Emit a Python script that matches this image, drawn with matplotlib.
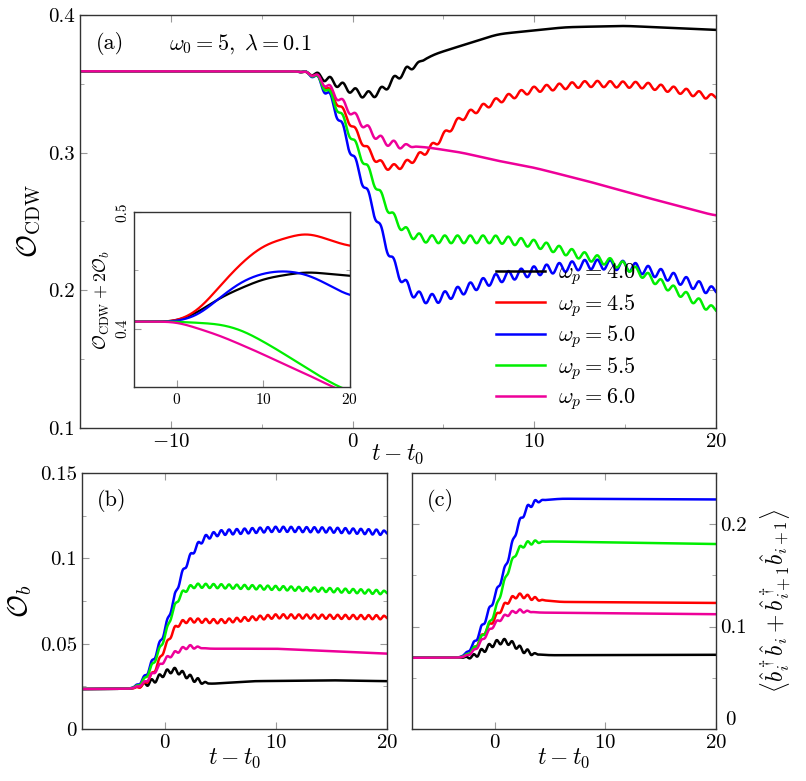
import numpy as np
import matplotlib
matplotlib.use("Agg")
import matplotlib.pyplot as plt
from matplotlib.ticker import MultipleLocator

plt.rcParams['mathtext.fontset'] = 'cm'
plt.rcParams['font.family'] = ['cmr10', 'DejaVu Serif']
plt.rcParams['axes.unicode_minus'] = False
plt.rcParams['axes.formatter.use_mathtext'] = True

labels = ["4.0", "4.5", "5.0", "5.5", "6.0"]
colors = ["black", "#ff0000", "#0000ff", "#00ee00", "#ee0099"]

# panel (a): O_CDW keypoints (t, value), ripple amplitudes
a_t = [
    [-15, -3, -2, -1, 0, 0.7, 1.5, 2.5, 4.4, 8, 11.7, 15, 20],
    [-15, -3, -2, -1, 0, 0.7, 1.5, 2.2, 3, 4.4, 6, 8, 10, 13, 16, 18, 20],
    [-15, -3, -2, -1, -0.5, 0, 0.7, 1.5, 2, 2.7, 3.5, 4.5, 6, 8, 10, 13, 15, 17, 20],
    [-15, -3, -2, -1, 0, 0.7, 1.5, 2.2, 3, 4, 8, 10, 13, 15, 17, 20],
    [-15, -3, -2, -1, 0, 0.7, 1.5, 2.5, 4, 6, 8, 10, 13, 16, 20],
]
a_v = [
    [.359, .359, .357, .351, .345, .341, .343, .356, .371, .386, .391, .392, .389],
    [.359, .359, .357, .340, .319, .304, .291, .288, .292, .304, .326, .338, .346, .350, .349, .345, .340],
    [.359, .359, .357, .335, .316, .297, .275, .246, .226, .207, .195, .193, .200, .209, .214, .219, .218, .212, .199],
    [.359, .359, .357, .338, .309, .292, .270, .253, .241, .237, .237, .234, .224, .218, .205, .185],
    [.359, .359, .357, .343, .328, .319, .309, .305, .304, .300, .294, .289, .279, .268, .254],
]
a_rip = [0.0025, 0.0022, 0.0035, 0.0028, 0.0025]
a_rip_end = [3.5, 20, 20, 20, 3.0]

# inset: O_CDW + 2 O_b
i_t = [
    [-5, 0, 2.5, 5, 10, 15, 20],
    [-5, 0, 2.5, 5, 7.5, 10, 15, 20],
    [-5, 0, 2.5, 5, 7.5, 10, 12.5, 15, 17.5, 20],
    [-5, 0, 2.5, 5, 7.5, 10, 12.5, 15, 17.5, 20],
    [-5, 0, 2.5, 5, 7.5, 10, 12.5, 15, 17.5, 20],
]
i_v = [
    [.406, .406, .414, .427, .443, .449, .445],
    [.406, .406, .415, .437, .457, .472, .483, .470],
    [.406, .406, .411, .427, .441, .448, .450, .447, .438, .427],
    [.406, .406, .405, .404, .399, .389, .378, .366, .355, .345],
    [.406, .406, .400, .394, .386, .378, .369, .361, .352, .343],
]

# panel (b): O_b
b_t = [
    [-7.5, -3, -1, 0, 0.8, 2, 3, 4, 8, 15, 20],
    [-7.5, -3, -2, -1, 0, 1, 2, 5, 10, 20],
    [-7.5, -3, -2, -1, 0, 0.7, 1.5, 2.5, 3.5, 5, 10, 15, 20],
    [-7.5, -3, -2, -1, 0, 0.7, 1.5, 2.5, 5, 10, 20],
    [-7.5, -3, -2, -1, 0, 1, 2, 4, 10, 20],
]
b_v = [
    [.0234, .0236, .028, .033, .035, .031, .028, .0264, .028, .0285, .028],
    [.0234, .0236, .025, .033, .048, .061, .0637, .063, .066, .0654],
    [.0234, .0236, .028, .041, .058, .074, .091, .104, .112, .115, .117, .1165, .115],
    [.0234, .0236, .027, .039, .054, .070, .080, .084, .0836, .0826, .080],
    [.0234, .0236, .026, .033, .041, .045, .0484, .047, .047, .0441],
]
b_rip = [0.0015, 0.0012, 0.0015, 0.0012, 0.001]
b_rip_end = [3.5, 20, 20, 20, 3.0]

# panel (c): <b_i^+ b_i + b_{i+1}^+ b_{i+1}>
c_t = [
    [-7.5, -3, -2, -1, 0, 0.8, 1.5, 2.5, 3.5, 5, 20],
    [-7.5, -3, -2, -1, 0, 1, 2, 3, 4, 6, 20],
    [-7.5, -3, -2, -1, 0, 1, 2, 3, 4, 6, 20],
    [-7.5, -3, -2, -1, 0, 1, 2, 3, 5, 20],
    [-7.5, -3, -2, -1, 0, 1, 2, 4, 20],
]
c_v = [
    [.0695, .0697, .070, .077, .084, .086, .084, .077, .073, .072, .0724],
    [.0695, .0697, .0756, .0935, .108, .123, .131, .129, .126, .124, .123],
    [.0695, .0697, .080, .103, .129, .158, .197, .218, .223, .2247, .224],
    [.0695, .0697, .076, .092, .113, .149, .175, .182, .183, .1805],
    [.0695, .0697, .074, .0886, .103, .111, .1156, .1136, .112],
]
c_rip = [0.0025, 0.002, 0.0025, 0.002, 0.0015]
c_rip_end = [3.5, 4.0, 4.0, 4.0, 3.0]

PERIOD = 0.7


def smooth_interp(tk, vk, t0, t1, width):
    pad = 3 * width
    t = np.linspace(t0 - pad, t1 + pad, 4000)
    v = np.interp(t, tk, vk)
    dt = t[1] - t[0]
    n = max(int(width / dt), 1)
    kern = np.exp(-0.5 * (np.arange(-3 * n, 3 * n + 1) / n) ** 2)
    kern /= kern.sum()
    vp = np.concatenate([np.full(3 * n, v[0]), v, np.full(3 * n, v[-1])])
    vs = np.convolve(vp, kern, mode='same')[3 * n:-3 * n]
    m = (t >= t0) & (t <= t1)
    return t[m], vs[m]


def curve(tk, vk, t0, t1, rip=0.0, rip_end=20, width=0.35):
    t, v = smooth_interp(tk, vk, t0, t1, width)
    env = np.clip((t + 3) / 1.5, 0, 1) * np.clip((rip_end + 0.5 - t) / 1.0, 0, 1)
    return t, v + rip * env * np.sin(2 * np.pi * t / PERIOD)


def style(ax):
    ax.tick_params(direction='in', which='both', top=True, right=True,
                   color='#999999', labelsize=15)
    ax.tick_params(which='major', length=5)
    ax.tick_params(which='minor', length=3)
    for s in ax.spines.values():
        s.set_linewidth(1.0)
        s.set_color('#333333')


fig = plt.figure(figsize=(8.06, 7.81), dpi=100)

axa = fig.add_axes([0.0993, 0.452, 0.789, 0.529])
for k in range(5):
    t, v = curve(a_t[k], a_v[k], -15, 20, a_rip[k], a_rip_end[k])
    axa.plot(t, v, color=colors[k], lw=1.8, label=r"$\omega_p = " + labels[k] + "$")
axa.set_xlim(-15, 20)
axa.set_ylim(0.1, 0.4)
axa.set_xticks([-10, 0, 10, 20])
axa.set_yticks([0.1, 0.2, 0.3, 0.4])
axa.set_yticklabels(["0.1", "0.2", "0.3", "0.4"])
axa.xaxis.set_minor_locator(MultipleLocator(5))
axa.yaxis.set_minor_locator(MultipleLocator(0.05))
style(axa)
axa.set_ylabel(r"$\mathcal{O}_{\rm CDW}$", fontsize=20)
axa.set_xlabel(r"$t - t_0$", fontsize=17, labelpad=-6)
axa.text(0.025, 0.93, "(a)", transform=axa.transAxes, fontsize=16, va='center')
axa.text(0.14, 0.93, r"$\omega_0 = 5,\ \lambda = 0.1$", transform=axa.transAxes,
         fontsize=16, va='center')
axa.legend(loc='lower right', bbox_to_anchor=(0.905, -0.01), frameon=False,
           fontsize=16, handlelength=2.2, labelspacing=0.2, handletextpad=0.6)

axi = fig.add_axes([0.166, 0.5045, 0.268, 0.224])
for k in range(5):
    t, v = smooth_interp(i_t[k], i_v[k], -5, 20, 1.2)
    axi.plot(t, v, color=colors[k], lw=1.6)
axi.set_xlim(-5, 20)
axi.set_ylim(0.35, 0.5)
axi.set_xticks([0, 10, 20])
axi.set_yticks([0.4, 0.5])
axi.set_yticklabels(["0.4", "0.5"], rotation=90, va='center')
axi.yaxis.set_minor_locator(MultipleLocator(0.05))
style(axi)
axi.tick_params(labelsize=11, top=False, right=False)
axi.set_ylabel(r"$\mathcal{O}_{\rm CDW} + 2\mathcal{O}_b$", fontsize=13, labelpad=2)

axb = fig.add_axes([0.1017, 0.0666, 0.378, 0.328])
for k in range(5):
    t, v = curve(b_t[k], b_v[k], -7.5, 20, b_rip[k], b_rip_end[k], 0.3)
    axb.plot(t, v, color=colors[k], lw=1.8)
axb.set_xlim(-7.5, 20)
axb.set_ylim(0, 0.15)
axb.set_xticks([0, 10, 20])
axb.set_yticks([0, 0.05, 0.1, 0.15])
axb.set_yticklabels(["0", "0.05", "0.1", "0.15"])
axb.yaxis.set_minor_locator(MultipleLocator(0.025))
style(axb)
axb.set_ylabel(r"$\mathcal{O}_b$", fontsize=20)
axb.set_xlabel(r"$t - t_0$", fontsize=17, labelpad=-4)
axb.text(0.05, 0.89, "(b)", transform=axb.transAxes, fontsize=16, va='center')

axc = fig.add_axes([0.511, 0.0666, 0.377, 0.328])
for k in range(5):
    t, v = curve(c_t[k], c_v[k], -7.5, 20, c_rip[k], c_rip_end[k], 0.3)
    axc.plot(t, v, color=colors[k], lw=1.8)
axc.set_xlim(-7.5, 20)
axc.set_ylim(0, 0.25)
axc.set_xticks([0, 10, 20])
axc.set_yticks([0, 0.1, 0.2])
axc.set_yticklabels(["", "0.1", "0.2"])
axc.yaxis.set_minor_locator(MultipleLocator(0.05))
style(axc)
axc.tick_params(labelleft=False, labelright=True)
axc.text(1.03, 0.0, "0", transform=axc.transAxes, fontsize=15, va='bottom', ha='left')
axc.yaxis.set_label_position('right')
axc.set_ylabel(r"$\langle \hat{b}_i^\dagger \hat{b}_i + \hat{b}_{i+1}^\dagger \hat{b}_{i+1}\rangle$",
               fontsize=17, rotation=90, labelpad=8)
axc.set_xlabel(r"$t - t_0$", fontsize=17, labelpad=-4)
axc.text(0.05, 0.89, "(c)", transform=axc.transAxes, fontsize=16, va='center')

fig.savefig("out.png", dpi=100)
